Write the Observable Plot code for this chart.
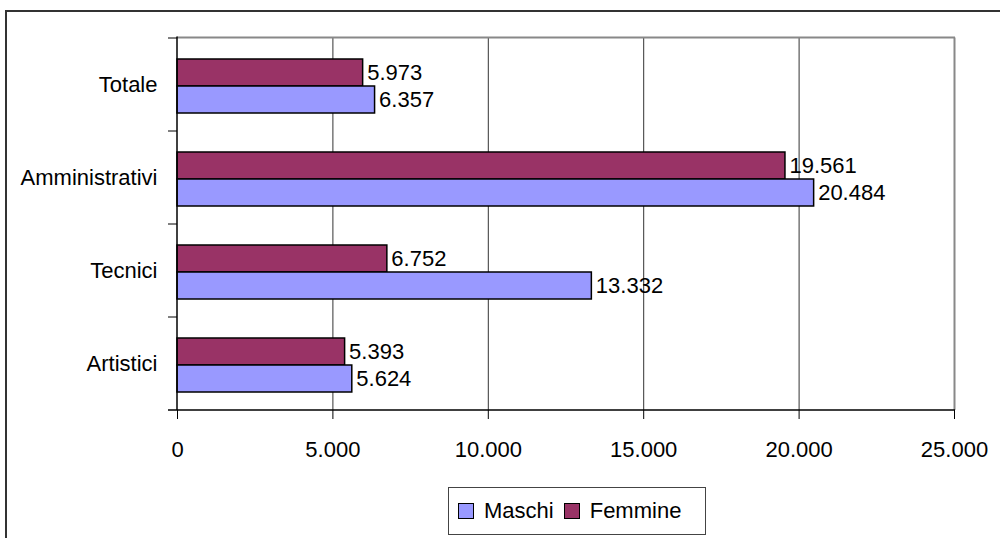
<!DOCTYPE html>
<html>
<head>
<meta charset="utf-8">
<script src="https://cdn.jsdelivr.net/npm/d3@7"></script>
<script src="https://cdn.jsdelivr.net/npm/@observablehq/plot@0.6"></script>
<style>
  html, body { margin: 0; padding: 0; background: #fff; }
  #wrap { position: relative; width: 1000px; height: 538px; overflow: hidden; font-family: "Liberation Sans", Arial, sans-serif; }
  #frame { position: absolute; left: 5px; top: 10px; width: 1100px; height: 700px; border: 2px solid #333; box-sizing: border-box; }
  #chart { position: absolute; left: 0; top: 0; }
  #legend { position: absolute; left: 448px; top: 487px; width: 258px; height: 48px; border: 1px solid #444; box-sizing: border-box;
            display: flex; align-items: center; padding-left: 9px; font-size: 22px; color: #000; background: #fff; }
  .sw { width: 14px; height: 14px; border: 1.5px solid #000; margin-right: 10px; }
  .lab { margin-right: 10px; }
</style>
</head>
<body>
<div id="wrap">
  <div id="frame"></div>
  <div id="chart"></div>
  <div id="legend"></div>
</div>
<script>
const categories = ["Totale", "Amministrativi", "Tecnici", "Artistici"];
const maschi = [6357, 20484, 13332, 5624];
const femmine = [5973, 19561, 6752, 5393];
const xTicks = [0, 5000, 10000, 15000, 20000, 25000];
const seriesNames = ["Maschi", "Femmine"];
const seriesColors = ["#9999FF", "#993366"];

const fmt = d3.formatLocale({decimal: ",", thousands: ".", grouping: [3], currency: ["€", ""]}).format(",d");

const dataM = categories.map((c, i) => ({cat: c, value: maschi[i]}));
const dataF = categories.map((c, i) => ({cat: c, value: femmine[i]}));

const chart = Plot.plot({
  width: 1000,
  height: 538,
  marginTop: 37.5,
  marginBottom: 128,
  marginLeft: 177,
  marginRight: 46,
  style: {fontFamily: "'Liberation Sans', Arial, sans-serif", fontSize: "22px", color: "#000", background: "transparent", overflow: "visible"},
  x: {domain: [0, 25000], label: null},
  y: {domain: categories, padding: 0, label: null},
  marks: [
    Plot.gridX(xTicks.slice(1, -1), {stroke: "#333", strokeOpacity: 1, strokeWidth: 1}),
    Plot.ruleX([25000], {stroke: "#888", strokeWidth: 2}),
    Plot.barX(dataF, {y: "cat", x: "value", fill: seriesColors[1], stroke: "#000", strokeWidth: 1.5, insetTop: 21, insetBottom: 45}),
    Plot.barX(dataM, {y: "cat", x: "value", fill: seriesColors[0], stroke: "#000", strokeWidth: 1.5, insetTop: 48, insetBottom: 18}),
    Plot.text(dataF, {y: "cat", x: "value", text: d => fmt(d.value), textAnchor: "start", dx: 4, dy: -12, fill: "#000"}),
    Plot.text(dataM, {y: "cat", x: "value", text: d => fmt(d.value), textAnchor: "start", dx: 4, dy: 15, fill: "#000"}),
    Plot.axisX(xTicks, {tickSize: 9, tickPadding: 22, tickFormat: fmt, stroke: "#000", label: null}),
    Plot.axisY({tickSize: 0, tickPadding: 20, label: null})
  ]
});
document.getElementById("chart").appendChild(chart);

// structural lines drawn from the chart's own scales
const xs = chart.scale("x"), ys = chart.scale("y");
const x0 = xs.apply(0), x1 = xs.apply(25000);
const yTop = ys.range[0], yBot = ys.range[1];
const svg = d3.select(chart);
const g = svg.append("g");
g.append("line").attr("x1", x0).attr("x2", x1 + 1).attr("y1", yTop).attr("y2", yTop).attr("stroke", "#888").attr("stroke-width", 2);
g.append("line").attr("x1", x0).attr("x2", x0).attr("y1", yTop - 1).attr("y2", yBot).attr("stroke", "#000").attr("stroke-width", 1.5);
categories.forEach(c => {
  const y = ys.apply(c);
  g.append("line").attr("x1", x0 - 9).attr("x2", x0).attr("y1", y).attr("y2", y).attr("stroke", "#000").attr("stroke-width", 1);
});
g.append("line").attr("x1", x0 - 9).attr("x2", x1 + 1).attr("y1", yBot).attr("y2", yBot).attr("stroke", "#000").attr("stroke-width", 1.5);

// legend
const leg = d3.select("#legend");
seriesNames.forEach((n, i) => {
  leg.append("div").attr("class", "sw").style("background", seriesColors[i]);
  leg.append("div").attr("class", "lab").text(n);
});
</script>
</body>
</html>
